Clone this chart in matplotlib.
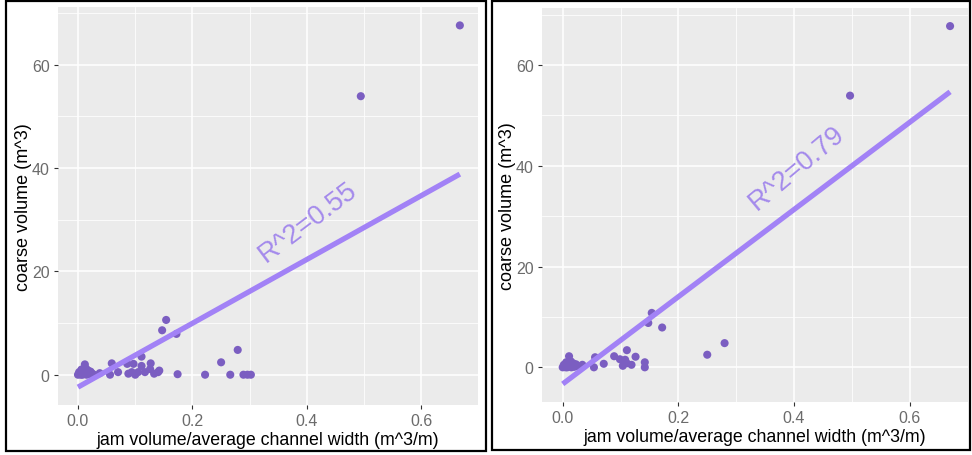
import matplotlib
matplotlib.use("Agg")
import matplotlib.pyplot as plt
from matplotlib.patches import Rectangle
import numpy as np

plt.rcParams['font.family'] = ['Liberation Sans', 'DejaVu Sans']

# ---- data: all jams (left) ----
all_x = [0.667, 0.494, 0.154, 0.147, 0.172, 0.279, 0.250, 0.111, 0.127, 0.097,
         0.086, 0.059, 0.111, 0.126, 0.038, 0.056, 0.070, 0.088, 0.094, 0.100,
         0.105, 0.117, 0.133, 0.140, 0.142, 0.174, 0.222, 0.266, 0.289, 0.296,
         0.302, 0.000, 0.002, 0.004, 0.006, 0.008, 0.010, 0.012, 0.014, 0.016,
         0.018, 0.020, 0.022, 0.025, 0.028, 0.015, 0.005]
all_y = [67.6, 53.9, 10.6, 8.6, 7.9, 4.8, 2.4, 3.5, 2.2, 2.1,
         2.1, 2.2, 1.7, 1.1, 0.3, 0.0, 0.5, 0.2, 0.5, 0.0,
         0.5, 0.5, 0.2, 0.5, 0.8, 0.1, 0.0, 0.0, 0.0, 0.0,
         0.0, 0.0, 0.5, 0.2, 1.0, 0.0, 0.4, 2.0, 1.2, 0.3,
         0.8, 0.1, 0.6, 0.2, 0.0, 0.0, 0.0]

# ---- data: subset (right) ----
sub_x = [0.670, 0.497, 0.154, 0.148, 0.172, 0.280, 0.250, 0.111, 0.126, 0.089,
         0.099, 0.108, 0.104, 0.111, 0.119, 0.142, 0.142, 0.071, 0.056, 0.054,
         0.000, 0.002, 0.004, 0.006, 0.008, 0.010, 0.011, 0.014, 0.016, 0.018,
         0.020, 0.023, 0.026, 0.030, 0.034, 0.005, 0.015]
sub_y = [67.7, 53.9, 10.8, 8.8, 7.9, 4.8, 2.5, 3.4, 2.1, 2.2,
         1.6, 1.5, 0.3, 0.8, 0.5, 1.0, 0.0, 0.7, 2.0, 0.0,
         0.0, 0.5, 0.2, 1.0, 0.0, 0.4, 2.2, 1.2, 0.3, 0.8,
         0.1, 0.6, 0.2, 0.0, 0.5, 0.0, 0.0]

# linear fit coefficients (intercept, slope) and R^2 labels
all_fit = (-2.4, 61.8)
sub_fit = (-3.3, 86.5)
all_r2 = "R^2=0.55"
sub_r2 = "R^2=0.79"

x_ticks = [0.0, 0.2, 0.4, 0.6]
x_tick_labels = ["0.0", "0.2", "0.4", "0.6"]
y_ticks = [0, 20, 40, 60]
y_tick_labels = ["0", "20", "40", "60"]

POINT_COLOR = "#7B5EC1"
LINE_COLOR = "#A282F6"
TEXT_COLOR = "#A48AEC"
W, H = 972, 456

fig = plt.figure(figsize=(W / 100, H / 100), dpi=100)
fig.patch.set_facecolor("white")


def px_axes(x0, y0, x1, y1):
    return fig.add_axes([x0 / W, 1 - y1 / H, (x1 - x0) / W, (y1 - y0) / H])


def panel(ax, xs, ys, fit, label, label_xy, label_rot, xlim, ylim):
    ax.set_facecolor("#EBEBEB")
    for s in ax.spines.values():
        s.set_visible(False)
    ax.set_xlim(*xlim)
    ax.set_ylim(*ylim)
    ax.set_xticks(x_ticks)
    ax.set_xticklabels(x_tick_labels)
    ax.set_yticks(y_ticks)
    ax.set_yticklabels(y_tick_labels)
    ax.set_xticks([0.1, 0.3, 0.5], minor=True)
    ax.set_yticks([10, 30, 50, 70], minor=True)
    ax.grid(which="major", color="white", linewidth=1.1)
    ax.grid(which="minor", color="white", linewidth=0.55)
    ax.set_axisbelow(True)
    ax.tick_params(which="major", length=3, width=0.8, color="#333333",
                   labelsize=11.5, labelcolor="#6B6B6B", pad=3)
    ax.tick_params(which="minor", length=0)
    ax.scatter(xs, ys, s=34, color=POINT_COLOR, edgecolors="none", zorder=3)
    b0, b1 = fit
    xl = np.array([min(xs), max(xs)])
    ax.plot(xl, b0 + b1 * xl, color=LINE_COLOR, linewidth=3.8,
            solid_capstyle="butt", zorder=4)
    ax.text(label_xy[0], label_xy[1], label, rotation=label_rot,
            rotation_mode="anchor", ha="center", va="center",
            color=TEXT_COLOR, fontsize=19.5, zorder=5)
    ax.set_xlabel("jam volume/average channel width (m^3/m)", fontsize=12.8,
                  color="black", labelpad=2)
    ax.set_ylabel("coarse volume (m^3)", fontsize=13, color="black",
                  labelpad=0)


ax1 = px_axes(58, 8, 478, 406)
panel(ax1, all_x, all_y, all_fit, all_r2, (0.402, 29.6), 37,
      (-0.0349, 0.6987), (-5.86, 71.16))

ax2 = px_axes(542, 9, 968, 403)
panel(ax2, sub_x, sub_y, sub_fit, sub_r2, (0.405, 39.7), 40,
      (-0.0358, 0.701), (-6.88, 71.29))

# frames round each panel
for (x0, y0, x1, y1) in [(6, 2, 486, 452), (492, 2, 970, 451)]:
    fig.patches.append(Rectangle((x0 / W, 1 - y1 / H), (x1 - x0) / W,
                                 (y1 - y0) / H, transform=fig.transFigure,
                                 fill=False, edgecolor="black", linewidth=1.6))

fig.savefig("out.png", dpi=100)
